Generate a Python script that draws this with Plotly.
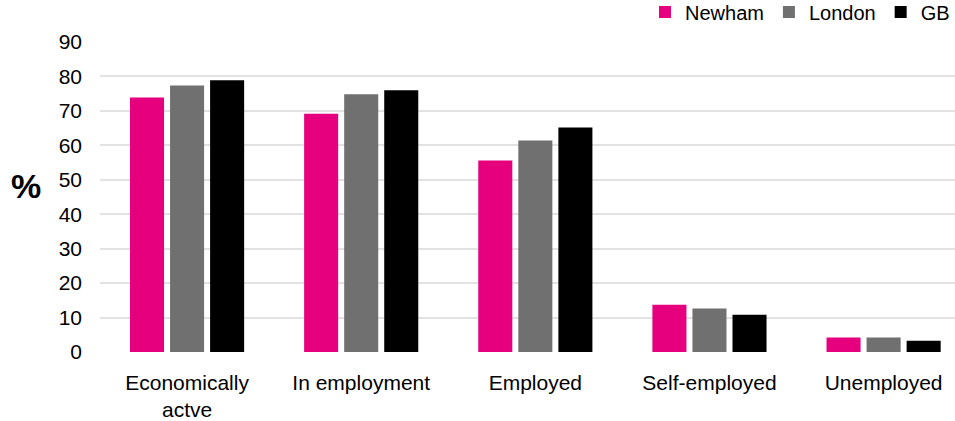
import plotly.graph_objects as go

categories = ["Economically<br>actve", "In employment", "Employed", "Self-employed", "Unemployed"]
newham = [73.9, 69.2, 55.6, 13.7, 4.2]
london = [77.4, 74.8, 61.4, 12.6, 4.2]
gb = [78.9, 76.0, 65.2, 10.8, 3.3]
series_names = ["Newham", "London", "GB"]
colors = ["#E6007E", "#707070", "#000000"]
y_ticks = [0, 10, 20, 30, 40, 50, 60, 70, 80, 90]

font_family = "Liberation Sans, Arial, sans-serif"

fig = go.Figure()
for name, vals, col in zip(series_names, [newham, london, gb], colors):
    fig.add_trace(go.Bar(x=categories, y=vals, name=name, marker=dict(color=col, line=dict(width=0))))

fig.update_layout(
    width=955, height=421,
    margin=dict(l=100, r=0, t=42, b=69, autoexpand=False),
    paper_bgcolor="white", plot_bgcolor="white",
    barmode="group", bargap=0.31, bargroupgap=0.15,
    font=dict(family=font_family, size=20, color="#000000"),
    showlegend=True,
    legend=dict(orientation="h", x=1.0, xanchor="right", y=1.16, yanchor="top",
                font=dict(size=20), traceorder="normal", itemwidth=30,
                bgcolor="rgba(0,0,0,0)", borderwidth=0, tracegroupgap=0),
    xaxis=dict(range=[-0.5, 4.41], showgrid=False, showline=False, ticks="",
               tickfont=dict(size=21), ticklabelstandoff=16),
    yaxis=dict(range=[0, 90], tickvals=y_ticks, showgrid=True, gridcolor="#e2e2e2", gridwidth=2,
               zeroline=False, showline=False, ticks="", tickfont=dict(size=21),
               ticklabelstandoff=17),
)
fig.add_annotation(text="<b>%</b>", xref="x domain", yref="y domain",
                   x=-0.087, y=(352.3 - 186) / 311, xanchor="center", yanchor="middle",
                   showarrow=False, font=dict(size=34))
fig.write_html("out.html", config={"displayModeBar": False},
               post_script="document.body.style.margin='0';document.body.style.padding='0';")
